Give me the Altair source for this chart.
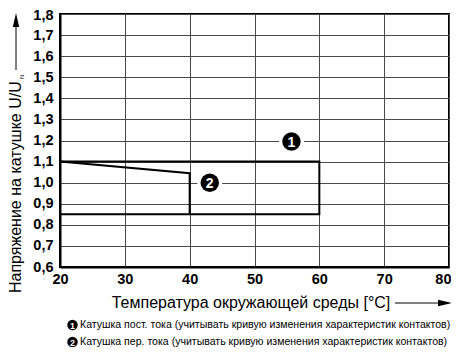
import altair as alt
import pandas as pd

# ---- data ----
x_ticks = [20, 30, 40, 50, 60, 70, 80]
y_ticks = [0.6, 0.7, 0.8, 0.9, 1.0, 1.1, 1.2, 1.3, 1.4, 1.5, 1.6, 1.7, 1.8]

dc_temp = [20, 60, 60, 20]          # curve 1 (DC coil)
dc_volt = [1.1, 1.1, 0.85, 0.85]
ac_temp = [20, 40, 40]              # curve 2 (AC coil)
ac_volt = [1.1, 1.045, 0.85]

marker_temp = [55.7, 43.1]
marker_volt = [1.195, 1.0]
marker_label = ["1", "2"]

x_title = "Температура окружающей среды [°C]"
y_title = "Напряжение на катушке U/U"
y_sub = "N"
legend_nums = ["1", "2"]
legend_texts = [
    "Катушка пост. тока (учитывать кривую изменения характеристик контактов)",
    "Катушка пер. тока (учитывать кривую изменения характеристик контактов)",
]

FONT = "Liberation Sans"
W, H = 389, 253

lines_df = pd.concat([
    pd.DataFrame({"t": dc_temp, "v": dc_volt, "s": "1", "o": range(len(dc_temp))}),
    pd.DataFrame({"t": ac_temp, "v": ac_volt, "s": "2", "o": range(len(ac_temp))}),
])
markers_df = pd.DataFrame({"t": marker_temp, "v": marker_volt, "lab": marker_label})

x_enc = alt.X("t:Q", scale=alt.Scale(domain=[20, 80], nice=False, zero=False),
              axis=alt.Axis(values=x_ticks, title=None, labelPadding=5, labelFlush=False,
                            labelAlign=alt.ExprRef("datum.value == 80 ? 'right' : 'center'"),
                            labelOffset=alt.ExprRef("datum.value == 80 ? 2 : 0")))
y_enc = alt.Y("v:Q", scale=alt.Scale(domain=[0.6, 1.8], nice=False, zero=False),
              axis=alt.Axis(values=y_ticks, title=None, labelPadding=7, labelFlush=False,
                            labelOffset=alt.ExprRef("datum.value > 1.75 ? 1.5 : 0"),
                            labelExpr="replace(format(datum.value, '.1f'), '.', ',')"))

lines = alt.Chart(lines_df).mark_line(color="black", strokeWidth=2, strokeJoin="miter").encode(
    x=x_enc, y=y_enc, detail="s:N", order="o:Q")

halo = alt.Chart(markers_df).mark_circle(size=620, color="white", opacity=1).encode(x=x_enc, y=y_enc)
markers = alt.Chart(markers_df).mark_circle(size=340, color="black", opacity=1).encode(x=x_enc, y=y_enc)
marker_txt = alt.Chart(markers_df).mark_text(color="white", font=FONT, fontWeight="bold",
                                             fontSize=14, baseline="middle", dy=1).encode(
    x=x_enc, y=y_enc, text="lab:N")

# axis titles and arrows
xt = alt.Chart(pd.DataFrame({"s": [x_title]})).mark_text(
    font=FONT, fontSize=16, color="black", align="center", baseline="middle").encode(
    text="s:N", x=alt.value(191), y=alt.value(289))
x_arrow_line = alt.Chart(pd.DataFrame({"a": [0]})).mark_rule(color="black", strokeWidth=1).encode(
    x=alt.value(335), x2=alt.value(380), y=alt.value(289))
x_arrow_head = alt.Chart(pd.DataFrame({"a": [0]})).mark_point(
    shape="M 1 0 L -1 -0.45 L -1 0.45 Z", size=196, filled=True, color="black", opacity=1).encode(
    x=alt.value(385), y=alt.value(289))

yt = alt.Chart(pd.DataFrame({"s": [y_title]})).mark_text(
    font=FONT, fontSize=16, color="black", align="left", baseline="middle", angle=270).encode(
    text="s:N", x=alt.value(-44), y=alt.value(279))
ysub = alt.Chart(pd.DataFrame({"s": [y_sub]})).mark_text(
    font=FONT, fontSize=6, color="black", align="left", baseline="middle", angle=270).encode(
    text="s:N", x=alt.value(-38), y=alt.value(65))
y_arrow_line = alt.Chart(pd.DataFrame({"a": [0]})).mark_rule(color="black", strokeWidth=1).encode(
    x=alt.value(-44), y=alt.value(56), y2=alt.value(10))
y_arrow_head = alt.Chart(pd.DataFrame({"a": [0]})).mark_point(
    shape="M 0 -1 L 0.45 1 L -0.45 1 Z", size=196, filled=True, color="black", opacity=1).encode(
    x=alt.value(-44), y=alt.value(6))

# footnotes
leg_df = pd.DataFrame({"n": legend_nums, "s": legend_texts, "yy": [311, 328]})
leg_c = alt.Chart(leg_df).mark_circle(size=110, color="black", opacity=1).encode(
    x=alt.value(12.5), y=alt.Y("yy:Q", scale=None))
leg_n = alt.Chart(leg_df).mark_text(font=FONT, fontSize=9, fontWeight="bold", color="white",
                                    baseline="middle", dy=0.5).encode(
    x=alt.value(12.5), y=alt.Y("yy:Q", scale=None), text="n:N")
leg_t = alt.Chart(leg_df).mark_text(font=FONT, fontSize=10.55, color="black", align="left",
                                    baseline="middle").encode(
    x=alt.value(20), y=alt.Y("yy:Q", scale=None), text="s:N")

chart = alt.layer(
    lines, halo, markers, marker_txt, xt, x_arrow_line, x_arrow_head,
    yt, ysub, y_arrow_line, y_arrow_head, leg_c, leg_n, leg_t
).properties(
    width=W, height=H,
    autosize=alt.AutoSizeParams(type="none"),
    padding={"left": 52, "top": 6, "right": 2, "bottom": 80},
).configure_axis(
    grid=True, gridColor="#4a4a4a", gridWidth=1, gridOpacity=1,
    domainColor="black", domainWidth=2, ticks=False,
    labelFont=FONT, labelFontWeight="bold", labelFontSize=14.5, labelColor="black",
).configure_view(stroke="black", strokeWidth=2)

chart.save("out.html", embed_options={"renderer": "svg", "actions": False})
